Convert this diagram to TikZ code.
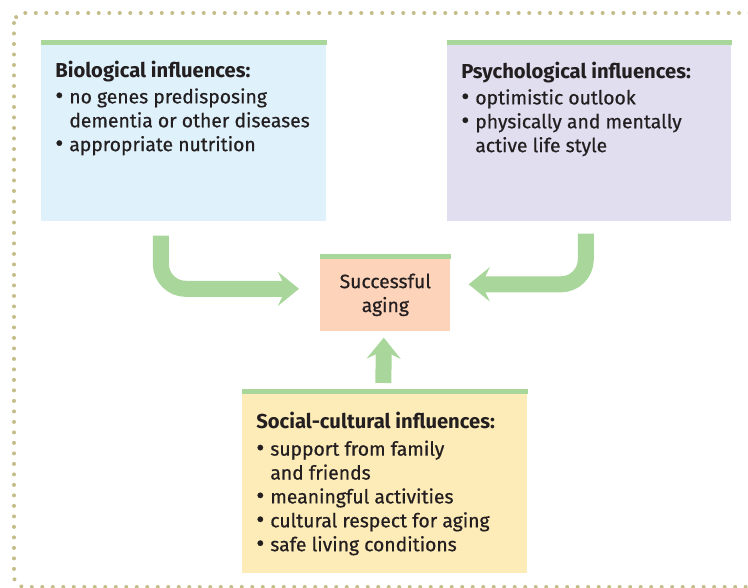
\documentclass[tikz,border=0pt]{standalone}
\usepackage{fontspec}
\setmainfont{Fira Sans}[UprightFeatures={FakeBold=0.6}]
\usetikzlibrary{arrows.meta, positioning}
\definecolor{cArrow}{RGB}{169,214,154}
\definecolor{cBio}{RGB}{223,241,251}
\definecolor{cPsy}{RGB}{224,222,239}
\definecolor{cSucc}{RGB}{253,211,185}
\definecolor{cSoc}{RGB}{253,235,184}
\definecolor{cDots}{RGB}{196,189,137}
\definecolor{cText}{RGB}{35,31,32}
\newcommand{\bul}{\makebox[0.28cm][l]{\raisebox{-0.2pt}{\fontsize{14}{14}\selectfont\textbullet}}}
\newcommand{\ind}{\hspace*{0.28cm}}
\newcommand{\boxhead}[1]{{\fontsize{11.5}{13.6}\selectfont\bfseries #1}}
\tikzset{
	infobox/.style ={rectangle, anchor=north west, inner sep=0pt, minimum width=5.7cm, minimum height=3.62cm},
	boxtext/.style ={align=left, inner sep=0pt, text=cText, font=\fontsize{11}{13.6}\selectfont},
	topbar/.style  ={draw=cArrow, line width=0.1cm},
	fatarrow/.style={draw=cArrow, line width=0.32cm, rounded corners=0.5cm, -{Stealth[length=0.42cm, width=0.68cm, inset=0.16cm]}},
	dotframe/.style={draw=cDots, line width=0.08cm, line cap=round, dash pattern=on 0pt off 0.21cm, rounded corners=0.2cm},
}
\begin{document}
\begin{tikzpicture}[x=0.02cm, y=0.02cm]
	\useasboundingbox (0,0) rectangle (748,588);
	\draw[dotframe] (14,575) rectangle (780,1);
	% the three influences
	\node[infobox, fill=cBio] (bio) at (41,548) {};
	\node[infobox, fill=cPsy, minimum width=5.68cm] (psy) at (447,548) {};
	\node[infobox, fill=cSoc, minimum height=3.68cm] (soc) at (242,199) {};
	\node[infobox, fill=cSucc, minimum width=2.6cm, minimum height=1.54cm, boxtext, align=center, text depth=0pt] (succ) at (320,334) {Successful\\aging};
	\foreach \b in {bio, psy, soc, succ}
		\draw[topbar] ([yshift=-0.05cm]\b.north west) -- ([yshift=-0.05cm]\b.north east);
	\node[boxtext, below right=0.42cm and 0.28cm of bio.north west] (biotxt) {\boxhead{Biological influences:}\\[1pt]
		\bul no genes predisposing\\ \ind dementia or other diseases\\ \bul appropriate nutrition};
	\node[boxtext, below right=0.44cm and 0.28cm of psy.north west] (psytxt) {\boxhead{Psychological influences:}\\[1pt]
		\bul optimistic outlook\\ \bul physically and mentally\\ \ind active life style};
	\node[boxtext, below right=0.45cm and 0.28cm of soc.north west] (soctxt) {\boxhead{Social-cultural influences:}\\[2pt]
		\bul support from family\\ \ind and friends\\ \bul meaningful activities\\ \bul cultural respect for aging\\ \bul safe living conditions};
	% arrows into the center
	\draw[fatarrow, shorten <=0.28cm, shorten >=0.42cm] ([xshift=-0.46cm]bio.south) |- ([yshift=0.08cm]succ.west);
	\draw[fatarrow, shorten <=0.24cm, shorten >=0.36cm] ([xshift=-0.07cm]psy.south) |- ([yshift=0.17cm]succ.east);
	\draw[fatarrow, shorten <=0.12cm, shorten >=0.12cm] ([xshift=-0.03cm]soc.north) -- ([xshift=-0.03cm]succ.south);
\end{tikzpicture}
\end{document}
